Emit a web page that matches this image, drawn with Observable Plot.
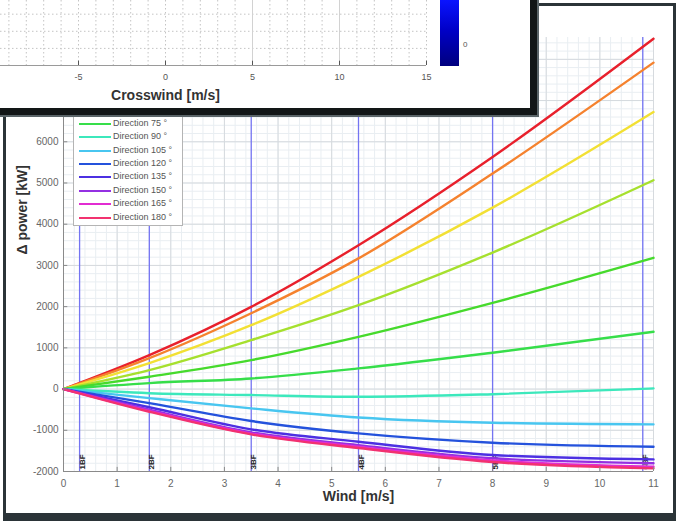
<!DOCTYPE html>
<html><head><meta charset="utf-8">
<script src="https://cdn.jsdelivr.net/npm/d3@7"></script>
<script src="https://cdn.jsdelivr.net/npm/@observablehq/plot@0.6"></script>
<style>
body{margin:0;background:#fff;font-family:"Liberation Sans",Arial,sans-serif;}
#page{position:relative;width:676px;height:521px;overflow:hidden;background:#fff;}
#win{position:absolute;left:3px;top:3px;width:667px;height:507px;border:3px solid #2b3438;border-bottom-width:8px;background:#fff;}
#main{position:absolute;left:0;top:0;}
#legend{position:absolute;left:73px;width:108px;background:#fff;border:1px solid #b4b4b4;padding:0 0 1px 0;}
.lg{height:13.4px;position:relative;font-size:9px;color:#555;white-space:nowrap;}
.lg .sw{position:absolute;left:5px;top:6px;width:32px;height:2px;}
.lg .tx{position:absolute;left:39px;top:1px;}
#over{position:absolute;left:0;top:0;width:530px;height:108px;background:#fff;border-right:7px solid #121617;border-bottom:7px solid #121617;box-shadow:1px 1px 0 1px #5a6468;}
#over svg{position:absolute;left:0;top:0;}
#cbar{position:absolute;left:440px;top:0;width:19px;height:66px;background:linear-gradient(#0a14ff,#0000c8 45%,#00007e);}
#cbl{position:absolute;left:463px;top:40px;font-size:8px;color:#555;}
</style></head>
<body><div id="page"><div id="win"></div></div>
<script>
// ---- main chart data ----
const windX = [0, 1.6, 3.5, 5.5, 8, 11];
const directions = [0, 15, 30, 45, 60, 75, 90, 105, 120, 135, 150, 165, 180];
const dir000 = [0, 824, 1995, 3490, 5632, 8500];
const dir015 = [0, 750, 1840, 3170, 5228, 7920];
const dir030 = [0, 630, 1550, 2723, 4402, 6720];
const dir045 = [0, 460, 1188, 2036, 3313, 5067];
const dir060 = [0, 300, 703, 1268, 2093, 3184];
const dir075 = [0, 145, 258, 501, 881, 1390];
const dir090 = [0, -100, -145, -186, -125, 16];
const dir105 = [0, -220, -468, -690, -816, -856];
const dir120 = [0, -340, -776, -1075, -1301, -1398];
const dir135 = [0, -440, -977, -1277, -1600, -1706];
const dir150 = [0, -500, -1050, -1360, -1680, -1800];
const dir165 = [0, -530, -1080, -1400, -1730, -1883];
const dir180 = [0, -550, -1100, -1430, -1770, -1923];
const dirColors = ["#e8202c", "#f5822e", "#f2e034", "#a6e02e", "#46da2c", "#36de4a", "#3ce8bc",
                   "#48c6f0", "#2452dc", "#4c30e2", "#9430e2", "#e22cd2", "#f23270"];
// legend entries left visible below the overlapping window
const legendDirections = [75, 90, 105, 120, 135, 150, 165, 180];
const xTicks = [0, 1, 2, 3, 4, 5, 6, 7, 8, 9, 10, 11];
const yTicks = [-2000, -1000, 0, 1000, 2000, 3000, 4000, 5000, 6000, 7000, 8000];
const bfWind = [0.3, 1.6, 3.5, 5.5, 8.0, 10.8];
const bfLabels = ["1BF", "2BF", "3BF", "4BF", "5BF", "6BF"];
const xDomain = [0, 11];
const yDomain = [-2000, 8530];
const xLabel = "Wind [m/s]";
const yLabel = "Δ power [kW]";
// ---- overlay (crosswind chart) ----
const crossDomain = [-15, 15];
const crossTicks = [-5, 0, 5, 10, 15];
const crossLabel = "Crosswind [m/s]";
const cbarLabel = "0";

const series = [dir000, dir015, dir030, dir045, dir060, dir075, dir090, dir105, dir120, dir135, dir150, dir165, dir180];
const data = directions.flatMap((d, i) => windX.map((w, j) => ({dir: d, wind: w, dp: series[i][j]})));
const minorX = d3.range(xDomain[0], xDomain[1] + 1e-9, 0.2);
const minorY = d3.range(yDomain[0], yDomain[1], 200);
const font = "Liberation Sans, Arial, sans-serif";

const main = Plot.plot({
  width: 676, height: 521,
  marginLeft: 63, marginRight: 23, marginTop: 37, marginBottom: 50,
  style: {background: "transparent", fontFamily: font},
  x: {domain: xDomain},
  y: {domain: yDomain},
  color: {domain: directions, range: dirColors},
  marks: [
    Plot.gridX(minorX, {stroke: "#e9eef2", strokeOpacity: 1}),
    Plot.gridY(minorY, {stroke: "#e9eef2", strokeOpacity: 1}),
    Plot.gridX(xTicks, {stroke: "#d6dade", strokeOpacity: 1}),
    Plot.gridY(yTicks, {stroke: "#d6dade", strokeOpacity: 1}),
    Plot.ruleX(bfWind, {stroke: "#7474f2", strokeWidth: 1.3}),
    Plot.text(bfLabels, {x: bfWind, frameAnchor: "bottom", rotate: -90, textAnchor: "start",
      dx: 5, dy: -2, fontSize: 8, fontWeight: "bold", fill: "#222"}),
    Plot.line(data, {x: "wind", y: "dp", z: "dir", stroke: "dir", strokeWidth: 2.4, curve: "monotone-x"}),
    Plot.ruleY([yDomain[0]], {stroke: "#8a8a8a"}),
    Plot.ruleX([xDomain[0]], {stroke: "#8a8a8a"}),
    Plot.ruleX(xTicks, {y1: yDomain[0], y2: yDomain[0] + 100, stroke: "#8a8a8a"}),
    Plot.ruleY(yTicks, {x1: xDomain[0], x2: xDomain[0] + 0.08, stroke: "#8a8a8a"}),
    Plot.axisX({ticks: xTicks, tickSize: 0, tickPadding: 8, label: null, fontSize: 10, color: "#666", tickFormat: d => String(d)}),
    Plot.axisY({ticks: yTicks, tickSize: 0, tickPadding: 5, label: null, fontSize: 10, color: "#666", tickFormat: d => String(d)}),
    Plot.text([xLabel], {frameAnchor: "bottom", dy: 29, fontSize: 14, fontWeight: "bold", fill: "#333"}),
    Plot.text([yLabel], {frameAnchor: "left", dx: -41, rotate: -90, fontSize: 14, fontWeight: "bold", fill: "#333"})
  ]
});
main.id = "main";
const page = document.getElementById("page");
page.appendChild(main);

// legend (its upper part lies under the overlapping window)
const legend = document.createElement("div");
legend.id = "legend";
const entryH = 13.4;
const hiddenPad = 14;
legend.style.top = (225 - legendDirections.length * entryH - 2 - hiddenPad) + "px";
legend.style.paddingTop = hiddenPad + "px";
legendDirections.forEach(d => {
  const i = directions.indexOf(d);
  const row = document.createElement("div");
  row.className = "lg";
  const sw = document.createElement("div");
  sw.className = "sw"; sw.style.background = dirColors[i];
  const tx = document.createElement("div");
  tx.className = "tx"; tx.textContent = "Direction " + d + " °";
  row.appendChild(sw); row.appendChild(tx);
  legend.appendChild(row);
});
page.appendChild(legend);

// overlay window
const over = document.createElement("div");
over.id = "over";
const pxPerUnit = 522 / (crossDomain[1] - crossDomain[0]);
const oPlot = Plot.plot({
  width: 530, height: 108,
  marginLeft: 0, marginRight: 104, marginTop: 0, marginBottom: 43,
  style: {background: "transparent", fontFamily: font},
  x: {domain: [crossDomain[1] - 426 / pxPerUnit, crossDomain[1]]},
  y: {domain: [0, 3.8], axis: null},
  marks: [
    Plot.gridX(d3.range(-9, 16, 1), {stroke: "#c4c4c4", strokeOpacity: 1, strokeDasharray: "1.5,2.5"}),
    Plot.gridY([1, 2, 3], {stroke: "#c4c4c4", strokeOpacity: 1, strokeDasharray: "1.5,2.5"}),
    Plot.gridX([5, 10], {stroke: "#d2d2d2", strokeOpacity: 1}),
    Plot.ruleY([0], {stroke: "#9a9a9a"}),
    Plot.ruleX(crossTicks, {y1: 0, y2: 0.25, stroke: "#555"}),
    Plot.axisX({ticks: crossTicks, tickSize: 0, tickPadding: 8, label: null, fontSize: 9, color: "#555", tickFormat: d => String(d)}),
    Plot.text([crossLabel], {x: [d3.mean(crossDomain)], frameAnchor: "bottom", dy: 34, fontSize: 14, fontWeight: "bold", fill: "#333"})
  ]
});
over.appendChild(oPlot);
const cbar = document.createElement("div"); cbar.id = "cbar"; over.appendChild(cbar);
const cbl = document.createElement("div"); cbl.id = "cbl"; cbl.textContent = cbarLabel; over.appendChild(cbl);
page.appendChild(over);
</script>
</body></html>
